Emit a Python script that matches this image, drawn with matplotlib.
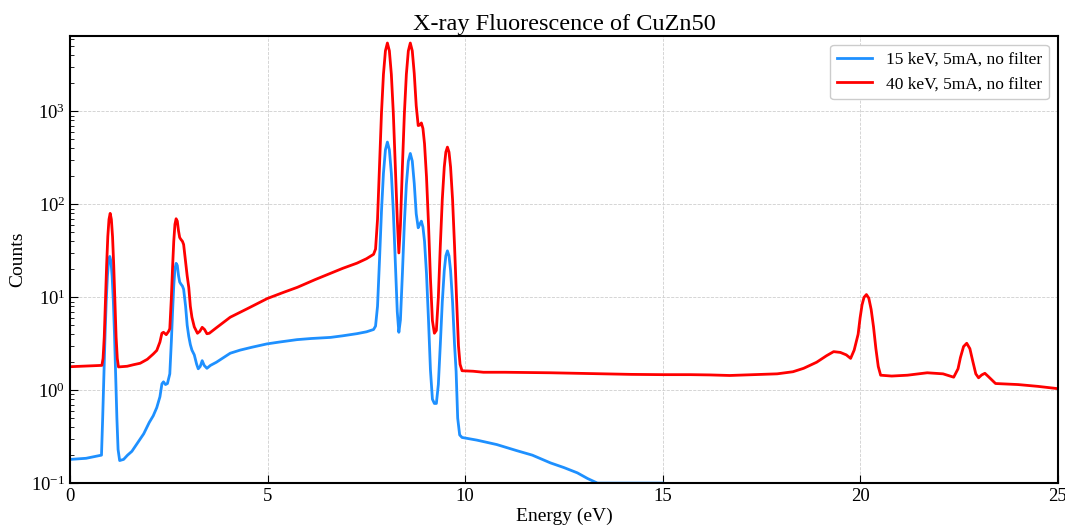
import matplotlib.pyplot as plt

plt.rcParams['font.family'] = ['Liberation Serif', 'DejaVu Serif']
plt.rcParams['mathtext.fontset'] = 'stix'

# 15 keV spectrum (energy, counts)
e_15 = [0.0, 0.4, 0.79, 0.82, 0.85, 0.88, 0.91, 0.94, 0.97, 1.00, 1.03, 1.06, 1.09,
        1.12, 1.15, 1.18, 1.21, 1.25, 1.35, 1.45, 1.56, 1.7, 1.86, 2.0, 2.1, 2.19,
        2.27, 2.32, 2.36, 2.41, 2.46, 2.52, 2.56, 2.59, 2.62, 2.65, 2.68, 2.71, 2.74,
        2.77, 2.80, 2.84, 2.87, 2.92, 2.96, 3.00, 3.04, 3.08, 3.14, 3.20, 3.24, 3.29,
        3.34, 3.39, 3.46, 3.55, 3.7, 3.85, 4.05, 4.3, 4.6, 4.98, 5.3, 5.74, 6.1, 6.59,
        6.9, 7.26, 7.5, 7.68, 7.73, 7.78, 7.83, 7.88, 7.93, 7.98, 8.03, 8.08, 8.13,
        8.18, 8.23, 8.28, 8.32, 8.36, 8.41, 8.46, 8.51, 8.56, 8.61, 8.66, 8.71, 8.76,
        8.81, 8.85, 8.89, 8.93, 8.97, 9.02, 9.07, 9.12, 9.17, 9.22, 9.27, 9.32, 9.37,
        9.42, 9.47, 9.51, 9.55, 9.59, 9.63, 9.68, 9.73, 9.77, 9.81, 9.86, 9.92, 10.3,
        10.8, 11.3, 11.7, 12.16, 12.5, 12.84, 13.1, 13.35, 14.0, 15.0]
c_15 = [0.18, 0.185, 0.20, 0.5, 1.4, 3.9, 9.1, 16.8, 24.5, 27.5, 24.5, 16.8, 9.1,
        3.9, 1.4, 0.5, 0.23, 0.175, 0.18, 0.2, 0.22, 0.27, 0.34, 0.45, 0.53, 0.65,
        0.85, 1.17, 1.23, 1.15, 1.18, 1.5, 3.4, 7.0, 13.3, 20.2, 23.2, 22.0, 17.2,
        14.6, 13.9, 13.2, 12.2, 8.0, 5.0, 3.8, 3.1, 2.7, 2.4, 1.9, 1.7, 1.8,
        2.08, 1.85, 1.72, 1.85, 2.0, 2.2, 2.5, 2.7, 2.9, 3.15, 3.3, 3.5, 3.6, 3.7,
        3.85, 4.06, 4.25, 4.5, 4.9, 8.0, 25, 84, 216, 386, 468, 386, 216,
        84, 25, 7.0, 4.2, 5.7, 18, 63, 163, 291, 353, 292, 168, 79,
        56, 61, 66, 57, 40, 18, 5.8, 1.65, 0.8, 0.72, 0.72, 1.15, 3.1,
        8.9, 19.4, 27.9, 31.6, 27.9, 19.4, 8.9, 3.1, 1.6, 0.5, 0.33, 0.31, 0.29,
        0.26, 0.224, 0.2, 0.165, 0.147, 0.129, 0.112, 0.1, 0.1, 0.1]

# 40 keV spectrum (energy, counts)
e_40 = [0.0, 0.4, 0.80, 0.83, 0.86, 0.89, 0.92, 0.95, 0.98, 1.01, 1.04, 1.07, 1.10,
        1.13, 1.16, 1.19, 1.22, 1.44, 1.6, 1.77, 1.95, 2.1, 2.19, 2.27, 2.32, 2.36,
        2.43, 2.49, 2.52, 2.56, 2.59, 2.62, 2.65, 2.68, 2.71, 2.74, 2.77, 2.80, 2.84,
        2.87, 2.92, 2.96, 3.00, 3.04, 3.08, 3.14, 3.22, 3.28, 3.34, 3.40, 3.46, 3.52,
        3.7, 4.05, 4.5, 4.99, 5.4, 5.75, 6.2, 6.59, 6.9, 7.26, 7.5, 7.68, 7.73, 7.78,
        7.83, 7.88, 7.93, 7.98, 8.03, 8.08, 8.13, 8.18, 8.23, 8.28, 8.32, 8.36, 8.41,
        8.46, 8.51, 8.56, 8.61, 8.66, 8.71, 8.76, 8.81, 8.85, 8.89, 8.93, 8.97, 9.02,
        9.07, 9.12, 9.17, 9.22, 9.27, 9.32, 9.37, 9.42, 9.47, 9.51, 9.55, 9.59, 9.63,
        9.68, 9.73, 9.78, 9.83, 9.87, 9.92, 10.2, 10.46, 11.0, 11.5, 12.16, 12.8,
        13.5, 14.2, 15.0, 15.7, 16.2, 16.7, 17.3, 17.9, 18.3, 18.57, 18.9, 19.15,
        19.33, 19.5, 19.65, 19.76, 19.85, 19.95, 20.0, 20.05, 20.1, 20.16, 20.22,
        20.28, 20.34, 20.40, 20.46, 20.52, 20.8, 21.2, 21.7, 22.1, 22.37, 22.48,
        22.54, 22.62, 22.7, 22.78, 22.85, 22.93, 23.0, 23.08, 23.16, 23.25, 23.43,
        24.0, 24.5, 25.0]
c_40 = [1.79, 1.82, 1.85, 2.2, 3.75, 9.1, 22, 45, 69, 80, 69, 45, 22,
        9.1, 3.75, 2.2, 1.78, 1.81, 1.88, 1.95, 2.15, 2.45, 2.68, 3.3, 4.1, 4.2,
        3.96, 4.3, 4.6, 10, 21, 40, 61, 70, 66, 52, 44, 42, 40,
        37, 24, 17, 12.8, 8.0, 6.1, 4.8, 4.1, 4.3, 4.75, 4.5, 4.05, 4.1,
        4.7, 6.1, 7.6, 9.7, 11.3, 12.8, 15.5, 18.1, 20.5, 23.3, 26, 29, 33, 69,
        266, 960, 2510, 4490, 5450, 4490, 2510, 960, 266, 70, 30, 60, 255,
        950, 2500, 4480, 5450, 4490, 2560, 1150, 705, 713, 752, 656, 449, 198,
        63, 16, 5.6, 4.1, 4.4, 10, 36, 113, 252, 365, 413, 365, 252,
        113, 36, 10, 3.0, 1.9, 1.62, 1.6, 1.56, 1.56, 1.55, 1.54, 1.52,
        1.5, 1.48, 1.47, 1.47, 1.46, 1.44, 1.47, 1.5, 1.58, 1.72, 2.0, 2.35,
        2.6, 2.55, 2.4, 2.2, 2.7, 4.0, 6.0, 8.3, 10.0, 10.7, 9.8,
        7.4, 4.8, 2.8, 1.8, 1.45, 1.42, 1.45, 1.54, 1.5, 1.38, 1.7,
        2.24, 2.95, 3.2, 2.8, 2.08, 1.5, 1.36, 1.46, 1.52, 1.4, 1.18,
        1.15, 1.1, 1.04]

fig = plt.figure(figsize=(10.65, 5.28), dpi=100)
ax = fig.add_axes([0.066, 0.085, 0.927, 0.847])

ax.plot(e_15, c_15, color='#1E90FF', lw=2, label='15 keV, 5mA, no filter')
ax.plot(e_40, c_40, color='red', lw=2, label='40 keV, 5mA, no filter')

ax.set_yscale('log')
ax.set_xlim(0, 25)
ax.set_ylim(0.1, 6500)
ax.set_xticks([0, 5, 10, 15, 20, 25])

ax.grid(True, which='major', ls='--', lw=0.6, color='#cfcfcf')
ax.tick_params(which='both', direction='in', labelsize=13.5)
ax.tick_params(which='major', length=6)
ax.tick_params(which='minor', length=3)
for s in ax.spines.values():
    s.set_linewidth(1.5)

ax.set_xlabel('Energy (eV)', fontsize=14, labelpad=2)
ax.set_ylabel('Counts', fontsize=14)
ax.set_title('X-ray Fluorescence of CuZn50', fontsize=17.5, pad=4)
ax.legend(loc='upper right', fontsize=12.5, framealpha=1, edgecolor='#cccccc')

plt.savefig('out.png', dpi=100)
